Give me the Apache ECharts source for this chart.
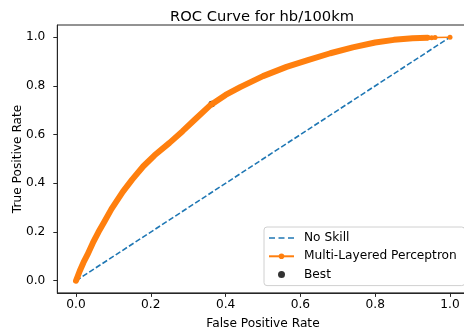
<!DOCTYPE html>
<html>
<head>
<meta charset="utf-8">
<script src="https://cdn.jsdelivr.net/npm/echarts@6/dist/echarts.min.js"></script>
<style>html,body{margin:0;padding:0;background:#fff;}#c{width:464px;height:336px;}</style>
</head>
<body>
<div id="c"></div>
<script>
// ---- data ----
const titleText = 'ROC Curve for hb/100km';
const xName = 'False Positive Rate';
const yName = 'True Positive Rate';
const tickValues = [0, 0.2, 0.4, 0.6, 0.8, 1.0];
const noSkillFpr = [0, 1];
const noSkillTpr = [0, 1];
const mlpFpr = [0, 0.002, 0.01, 0.02, 0.03, 0.045, 0.06, 0.075, 0.095, 0.125, 0.15, 0.18, 0.21, 0.25, 0.285, 0.318, 0.36, 0.40, 0.439, 0.50, 0.563, 0.62, 0.68, 0.74, 0.80, 0.85, 0.90, 0.94];
const mlpTpr = [0, 0.008, 0.04, 0.075, 0.105, 0.155, 0.2, 0.24, 0.295, 0.365, 0.415, 0.47, 0.515, 0.566, 0.614, 0.662, 0.722, 0.763, 0.795, 0.84, 0.878, 0.906, 0.934, 0.958, 0.978, 0.989, 0.996, 0.998];
const mlpTailFpr = [0.94, 0.951, 0.96, 1.0];
const mlpTailTpr = [0.998, 0.998, 0.999, 1.0];
const bestFpr = [0.363];
const bestTpr = [0.726];

const zip = (a, b) => a.map((v, i) => [v, b[i]]);
const FONT = 'DejaVu Sans';
const INK = '#262626';
const FS = 12.2;

const chart = echarts.init(document.getElementById('c'), null, {renderer: 'canvas'});
chart.setOption({
  animation: false,
  backgroundColor: '#fff',
  title: {
    text: titleText, left: 257, top: 5, textAlign: 'center',
    textStyle: {fontFamily: FONT, fontSize: 14.7, fontWeight: 'normal', color: '#000'}
  },
  grid: {
    left: 57.3, right: -4.7, top: 25, bottom: 43.1,
    containLabel: false, outerBoundsMode: 'none',
    show: true, borderColor: INK, borderWidth: 1, backgroundColor: 'transparent'
  },
  xAxis: {
    type: 'value', min: -0.05, max: 1.05,
    name: xName, nameLocation: 'middle', nameGap: 25, nameMoveOverlap: false,
    nameTextStyle: {fontFamily: FONT, fontSize: FS, color: '#000'},
    axisLine: {show: true, onZero: false, lineStyle: {color: INK, width: 1}},
    axisTick: {show: true, length: 4, customValues: tickValues, lineStyle: {color: INK}},
    axisLabel: {customValues: tickValues, margin: 6, fontFamily: FONT, fontSize: FS, color: '#000',
      formatter: v => v.toFixed(1)},
    splitLine: {show: false}
  },
  yAxis: {
    type: 'value', min: -0.05, max: 1.05,
    name: yName, nameLocation: 'middle', nameGap: 33, nameMoveOverlap: false,
    nameTextStyle: {fontFamily: FONT, fontSize: FS, color: '#000'},
    axisLine: {show: true, onZero: false, lineStyle: {color: INK, width: 1}},
    axisTick: {show: true, length: 4, customValues: tickValues, lineStyle: {color: INK}},
    axisLabel: {customValues: tickValues, margin: 12, fontFamily: FONT, fontSize: FS, color: '#000',
      formatter: v => v.toFixed(1)},
    splitLine: {show: false}
  },
  legend: {
    orient: 'vertical', left: 264, top: 227,
    padding: [4, 8, 4, 4],
    itemWidth: 25, itemHeight: 7, itemGap: 4.3,
    backgroundColor: 'rgba(255,255,255,0.8)', borderColor: '#d0d0d0', borderWidth: 1, borderRadius: 3,
    textStyle: {fontFamily: FONT, fontSize: FS, lineHeight: 14, color: '#000', padding: [0, 0, 0, 5]},
    data: [
      {name: 'No Skill', icon: 'path://M0,0h6v1.6h-6z M9.5,0h6v1.6h-6z M19,0h6v1.6h-6z'},
      'Multi-Layered Perceptron',
      'Best'
    ]
  },
  series: [
    {
      name: 'No Skill', type: 'line', data: zip(noSkillFpr, noSkillTpr),
      symbol: 'none', z: 3,
      lineStyle: {color: '#1f77b4', width: 1.6, type: [5.5, 2.4]},
      itemStyle: {color: '#1f77b4'}
    },
    {
      name: 'Best', type: 'scatter', data: zip(bestFpr, bestTpr),
      symbol: 'circle', symbolSize: 6.5, z: 2,
      itemStyle: {color: '#000'}
    },
    {
      name: 'Multi-Layered Perceptron', type: 'line', data: zip(mlpTailFpr, mlpTailTpr),
      symbol: 'circle', symbolSize: 5, showSymbol: true, z: 4,
      lineStyle: {color: '#ff7f0e', width: 1.5},
      itemStyle: {color: '#ff7f0e', borderWidth: 0}
    },
    {
      name: 'Multi-Layered Perceptron', type: 'line', data: zip(mlpFpr, mlpTpr),
      symbol: 'none', z: 4,
      lineStyle: {color: '#ff7f0e', width: 6, cap: 'round', join: 'round'}
    }
  ]
});
</script>
</body>
</html>
